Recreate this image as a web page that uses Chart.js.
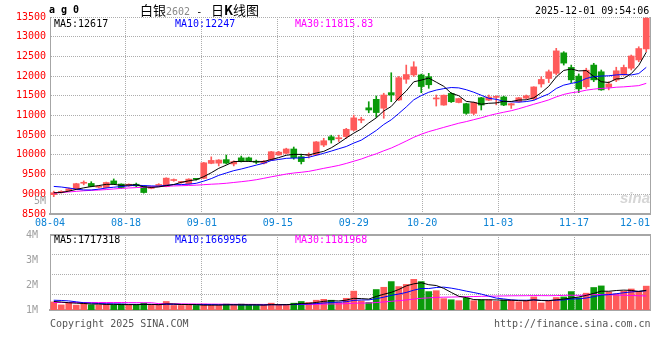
<!DOCTYPE html>
<html>
<head>
<meta charset="utf-8">
<script src="https://cdn.jsdelivr.net/npm/chart.js@4"></script>
<style>
  body { margin: 0; background: #fff; }
  #wrap { position: relative; width: 660px; height: 360px; overflow: hidden; }
  canvas { position: absolute; left: 0; }
  .t { position: absolute; font: 10px 'DejaVu Sans Mono', monospace; line-height: 12px; white-space: pre; }
</style>
</head>
<body>
<div id="wrap">
  <canvas id="kline" width="660" height="232" style="top:0"></canvas>
  <canvas id="vol" width="660" height="95" style="top:225px"></canvas>

  <div class="t" style="left:49px;top:4px;font-weight:bold;">a g 0</div>
  <div class="t" style="left:140px;top:3px;font:13px 'Noto Sans CJK SC';line-height:14px;">白银<span style="font:10px 'DejaVu Sans Mono';color:#888">2602</span><span style="font:10px 'DejaVu Sans Mono'"> - </span> 日<b>K</b>线图</div>
  <div class="t" style="left:535px;top:5px;">2025-12-01 09:54:06</div>

  <div class="t" style="left:54px;top:18px;color:#000">MA5:12617</div>
  <div class="t" style="left:175px;top:18px;color:#0000ff">MA10:12247</div>
  <div class="t" style="left:295px;top:18px;color:#ff00ff">MA30:11815.83</div>
  <div class="t" style="left:0;width:46px;text-align:right;top:195px;color:#a0a0a0">5M</div>
  <div class="t" style="left:620px;top:189px;font:italic bold 15px 'Liberation Sans';color:#d6d6d6">sina</div>

  <div class="t" style="left:54px;top:234px;color:#000">MA5:1717318</div>
  <div class="t" style="left:175px;top:234px;color:#0000ff">MA10:1669956</div>
  <div class="t" style="left:295px;top:234px;color:#ff00ff">MA30:1181968</div>

  <div class="t" style="left:50px;top:318px;color:#555">Copyright 2025 SINA.COM</div>
  <div class="t" style="left:494px;top:318px;color:#555">http://finance.sina.com.cn</div>
</div>
<script>
// trading days shown, 08-04 .. 12-01
const dates = [
  '08-04','08-05','08-06','08-07','08-08','08-11','08-12','08-13','08-14','08-15',
  '08-18','08-19','08-20','08-21','08-22','08-25','08-26','08-27','08-28','08-29',
  '09-01','09-02','09-03','09-04','09-05','09-08','09-09','09-10','09-11','09-12',
  '09-15','09-16','09-17','09-18','09-19','09-22','09-23','09-24','09-25','09-26',
  '09-29','09-30','10-09','10-10','10-13','10-14','10-15','10-16','10-17','10-20',
  '10-21','10-22','10-23','10-24','10-27','10-28','10-29','10-30','10-31','11-03',
  '11-04','11-05','11-06','11-07','11-10','11-11','11-12','11-13','11-14','11-17',
  '11-18','11-19','11-20','11-21','11-24','11-25','11-26','11-27','11-28','12-01'
];
const dateTicks = ['08-04','08-18','09-01','09-15','09-29','10-20','11-03','11-17','12-01'];

const open = [
  8990,9045,9090,9140,9280,9275,9180,9170,9340,9260,
  9215,9255,9210,9150,9225,9195,9350,9300,9265,9390,
  9405,9785,9790,9880,9770,9925,9925,9835,9790,9870,
  10000,10040,10150,9955,9990,10000,10250,10460,10410,10465,
  10630,10880,11195,11410,11185,11580,11395,11920,12030,12030,
  11985,11420,11265,11560,11330,11300,11055,11450,11390,11460,
  11470,11265,11350,11440,11420,11800,11940,12070,12590,12220,
  12000,11730,12280,12110,11715,11900,12030,12200,12410,12690
];
const high = [
  9080,9090,9160,9280,9340,9320,9215,9310,9390,9265,
  9265,9285,9215,9195,9270,9420,9390,9330,9395,9400,
  9810,9950,9880,9995,9850,9970,9945,9870,9860,10090,
  10090,10170,10200,10020,10050,10340,10420,10500,10500,10675,
  11010,10955,11350,11495,11565,12085,11990,12280,12365,12050,
  12070,11520,11520,11580,11440,11310,11340,11460,11520,11500,
  11490,11310,11460,11520,11730,11985,12155,12705,12620,12280,
  12055,12200,12325,12155,11860,12225,12280,12535,12745,13480
];
const low = [
  8940,9030,9075,9130,9240,9190,9160,9160,9255,9150,
  9200,9190,9030,9140,9200,9190,9330,9280,9255,9360,
  9395,9775,9720,9770,9720,9820,9840,9780,9770,9860,
  9990,10030,9890,9770,9920,9990,10210,10300,10340,10420,
  10610,10815,11070,10955,10930,11350,11380,11815,11990,11580,
  11690,11240,11260,11330,11320,11030,11020,11140,11380,11270,
  11250,11180,11340,11420,11400,11720,11835,12030,12280,11835,
  11580,11690,11860,11640,11650,11860,12020,12155,12365,12620
];
const close = [
  9040,9075,9140,9270,9295,9200,9200,9300,9265,9170,
  9255,9215,9045,9185,9240,9410,9365,9310,9385,9380,
  9800,9860,9870,9790,9830,9830,9850,9815,9840,10080,
  10070,10150,9930,9830,10000,10330,10360,10380,10425,10650,
  10940,10895,11140,11075,11520,11520,11960,12040,12235,11735,
  11780,11440,11515,11350,11430,11055,11330,11265,11470,11475,
  11265,11300,11450,11500,11725,11915,12110,12640,12330,11905,
  11675,12150,11905,11650,11800,12135,12220,12510,12700,13470
];
const ma5 = [
  9040,9045,9080,9125,9164,9196,9221,9253,9252,9227,
  9238,9241,9190,9174,9188,9219,9249,9302,9342,9370,
  9448,9547,9659,9740,9830,9836,9834,9823,9833,9883,
  9931,9991,10014,10012,9996,10048,10090,10180,10299,10429,
  10551,10658,10810,10940,11114,11230,11443,11623,11855,11898,
  11950,11846,11741,11564,11503,11358,11336,11286,11310,11319,
  11361,11355,11392,11398,11448,11578,11740,11978,12144,12180,
  12132,12140,11993,11857,11836,11928,11942,12063,12273,12607
];
const ma10 = [
  9200,9185,9160,9130,9110,9110,9130,9160,9180,9196,
  9217,9231,9222,9213,9208,9229,9245,9246,9258,9279,
  9334,9398,9481,9541,9600,9642,9691,9741,9787,9857,
  9884,9913,9919,9923,9940,9990,10041,10097,10156,10213,
  10300,10374,10495,10620,10772,10891,11051,11217,11398,11506,
  11590,11645,11682,11710,11701,11654,11591,11514,11437,11411,
  11360,11346,11339,11354,11384,11470,11548,11685,11771,11814,
  11855,11940,11986,12001,12008,12030,12041,12028,12065,12222
];
const ma30 = [
  9030,9045,9060,9075,9090,9100,9108,9120,9135,9150,
  9160,9170,9180,9188,9195,9205,9212,9218,9224,9232,
  9244,9256,9265,9280,9300,9320,9342,9370,9405,9444,
  9478,9514,9540,9559,9582,9620,9659,9695,9733,9783,
  9839,9895,9965,10028,10104,10174,10261,10352,10447,10525,
  10591,10644,10699,10751,10804,10845,10894,10942,10997,11043,
  11083,11121,11172,11228,11285,11338,11396,11472,11535,11577,
  11602,11643,11669,11688,11697,11718,11727,11742,11758,11816
];

const volume = [
  710000,450000,660000,430000,620000,450000,450000,520000,450000,520000,
  430000,450000,600000,450000,430000,750000,400000,400000,420000,400000,
  520000,420000,420000,520000,420000,520000,420000,400000,420000,600000,
  480000,450000,600000,750000,660000,860000,940000,860000,660000,1030000,
  1660000,800000,660000,1800000,2000000,2500000,2060000,2250000,2700000,2500000,
  1620000,1700000,1000000,900000,820000,1050000,820000,900000,900000,760000,
  900000,860000,720000,820000,1150000,620000,780000,1100000,1150000,1620000,
  1080000,1480000,1980000,2120000,1580000,1420000,1650000,1850000,1650000,2100000
];
const volMa5 = [
  750000,700000,640000,600000,574000,522000,522000,494000,498000,478000,
  474000,474000,490000,490000,472000,536000,526000,486000,480000,474000,
  428000,432000,436000,456000,460000,460000,460000,456000,436000,472000,
  464000,470000,510000,576000,588000,664000,762000,814000,796000,870000,
  1030000,1002000,962000,1190000,1384000,1552000,1804000,2122000,2302000,2402000,
  2226000,2154000,1904000,1544000,1208000,1094000,918000,898000,898000,886000,
  856000,864000,828000,812000,890000,834000,818000,894000,960000,1054000,
  1146000,1286000,1462000,1656000,1648000,1716000,1750000,1724000,1630000,1734000
];
const volMa10 = [
  860000,840000,800000,720000,640000,600000,570000,550000,540000,526000,
  498000,498000,492000,494000,475000,505000,500000,488000,485000,473000,
  482000,479000,461000,468000,467000,444000,446000,446000,446000,466000,
  462000,465000,483000,506000,530000,564000,616000,662000,686000,729000,
  847000,882000,888000,993000,1127000,1291000,1403000,1542000,1746000,1893000,
  1889000,1979000,2013000,1923000,1805000,1660000,1536000,1401000,1221000,1047000,
  975000,891000,863000,855000,888000,845000,841000,861000,886000,972000,
  990000,1052000,1178000,1308000,1351000,1431000,1518000,1593000,1643000,1691000
];
const volMa30 = [
  660000,660000,660000,660000,660000,660000,660000,660000,660000,660000,
  650000,650000,640000,640000,560000,550000,545000,540000,535000,530000,
  525000,520000,515000,510000,505000,500000,497000,494000,491000,488000,
  481000,481000,479000,489000,491000,504000,521000,532000,539000,556000,
  597000,609000,611000,656000,708000,766000,822000,883000,959000,1029000,
  1066000,1109000,1128000,1141000,1154000,1172000,1185000,1202000,1218000,1223000,
  1237000,1251000,1255000,1257000,1273000,1265000,1260000,1268000,1284000,1304000,
  1285000,1307000,1351000,1362000,1348000,1312000,1298000,1285000,1250000,1237000
];
const volTickLabels = [1000000, 2000000, 3000000, 4000000];

const RED = '#ff5b5b', GREEN = '#0a9a0a';
const GRID = '#adadad', FRAME = '#a6a6a6';
const MONO = { family: "'DejaVu Sans Mono', monospace", size: 10 };
const tickIdx = dateTicks.map(d => dates.indexOf(d));
const candleColor = close.map((c, i) => c >= open[i] ? RED : GREEN);
const volMax = 6600000;

// plot frame pieces that chart.js axes don't draw
function framePlugin(sides) {
  return {
    id: 'frame',
    afterDraw(chart) {
      const { ctx, chartArea: a } = chart;
      ctx.save();
      ctx.strokeStyle = FRAME;
      if (sides.includes('right')) {
        ctx.lineWidth = 1;
        ctx.beginPath(); ctx.moveTo(a.right + 0.5, a.top); ctx.lineTo(a.right + 0.5, a.bottom); ctx.stroke();
      }
      if (sides.includes('top')) {
        ctx.lineWidth = 2;
        ctx.beginPath(); ctx.moveTo(a.left, a.top); ctx.lineTo(a.right + 1, a.top); ctx.stroke();
      }
      ctx.restore();
    }
  };
}

function lineSet(data, color) {
  return { type: 'line', data, borderColor: color, borderWidth: 1, pointRadius: 0,
           tension: 0, order: 0 };
}

// date grid/labels: one slot per trading day across the plot width
const dateAxis = (showLabels, height) => ({
  type: 'linear', position: 'bottom', min: 0, max: dates.length - 1, offset: false,
  afterBuildTicks: s => {
    // blank tick before the start so 'inner' only right-aligns the last label
    s.ticks = [{ value: -6 }].concat(tickIdx.map(v => ({ value: v })));
  },
  afterFit: s => { s.height = height; },
  grid: { color: c => (c.tick && c.tick.value < 0 ? 'rgba(0,0,0,0)' : GRID), drawTicks: false, offset: false },
  border: { color: FRAME, width: 2, dash: [1, 1] },
  ticks: { display: showLabels, align: 'inner', autoSkip: false, maxRotation: 0, padding: 3,
           color: '#0d83d5', font: MONO, callback: v => dates[v] || '' }
});

new Chart(document.getElementById('kline'), {
  type: 'bar',
  data: {
    labels: dates,
    datasets: [
      lineSet(ma5, '#000000'),
      lineSet(ma10, '#0000ff'),
      lineSet(ma30, '#ff00ff'),
      { data: dates.map((d, i) => [open[i], close[i]]), backgroundColor: candleColor,
        barThickness: 6, minBarLength: 1, grouped: false, order: 1 },
      { data: dates.map((d, i) => [low[i], high[i]]), backgroundColor: candleColor,
        barThickness: 1, grouped: false, order: 2 }
    ]
  },
  options: {
    responsive: false,
    devicePixelRatio: 1,
    animation: false,
    layout: { padding: { top: 17, right: 10, left: 0, bottom: 0 } },
    plugins: { legend: { display: false }, tooltip: { enabled: false } },
    scales: {
      x: { type: 'category', display: false, offset: true },
      xd: dateAxis(true, 18),
      y: {
        type: 'linear', position: 'left', min: 8500, max: 13500,
        afterFit: s => { s.width = 50; },
        ticks: { stepSize: 500, color: '#ff0000', font: MONO, padding: 4, callback: v => String(v) },
        grid: { color: GRID, drawTicks: false },
        border: { color: FRAME, width: 1, dash: [1, 1] }
      }
    }
  },
  plugins: [framePlugin(['right'])]
});

new Chart(document.getElementById('vol'), {
  type: 'bar',
  data: {
    labels: dates,
    datasets: [
      lineSet(volMa5, '#000000'),
      lineSet(volMa10, '#0000ff'),
      lineSet(volMa30, '#ff00ff'),
      { data: volume, backgroundColor: candleColor, barThickness: 6, order: 1 }
    ]
  },
  options: {
    responsive: false,
    devicePixelRatio: 1,
    animation: false,
    layout: { padding: { top: 10, right: 10, left: 0, bottom: 9 } },
    plugins: { legend: { display: false }, tooltip: { enabled: false } },
    scales: {
      x: { type: 'category', display: false, offset: true },
      xd: dateAxis(false, 0),
      y: {
        type: 'linear', position: 'left', min: 0, max: volMax,
        afterBuildTicks: s => { s.ticks = [0.21, 0.474, 0.737].map(f => ({ value: f * volMax })); },
        afterFit: s => { s.width = 0; },
        ticks: { display: false },
        grid: { color: GRID, drawTicks: false },
        border: { display: false, dash: [1, 1] }
      },
      yl: {
        type: 'linear', position: 'left', min: volTickLabels[0], max: volTickLabels[volTickLabels.length - 1],
        afterFit: s => { s.width = 50; },
        ticks: { stepSize: 1000000, color: '#a0a0a0', font: MONO, padding: 4,
                 callback: v => (v / 1000000) + 'M' },
        grid: { display: false },
        border: { color: FRAME, width: 1 }
      }
    }
  },
  plugins: [framePlugin(['right', 'top'])]
});
</script>
</body>
</html>
